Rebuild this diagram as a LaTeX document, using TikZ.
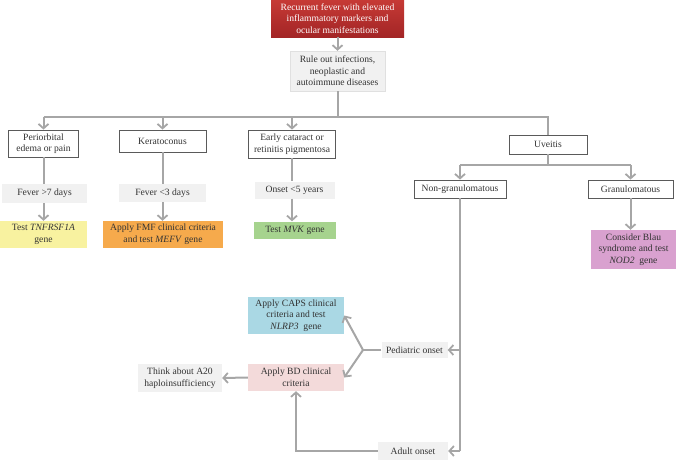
\documentclass[tikz,border=0pt]{standalone}
\usepackage{fontspec}
\setmainfont{Liberation Serif}
\usetikzlibrary{arrows.meta}

\definecolor{txt}{HTML}{333333}
\definecolor{boxline}{HTML}{5A5A5A}
\definecolor{conn}{HTML}{A6A6A6}
\definecolor{greybox}{HTML}{F1F1F1}
\definecolor{redtop}{HTML}{C63A35}
\definecolor{redbot}{HTML}{A32526}
\definecolor{yellowbox}{HTML}{F8F2A0}
\definecolor{orangebox}{HTML}{F6AA4C}
\definecolor{greenbox}{HTML}{A6D38E}
\definecolor{pinkbox}{HTML}{D9A1CF}
\definecolor{bluebox}{HTML}{AAD8E4}
\definecolor{rosebox}{HTML}{F3DADA}

\begin{document}
\begin{tikzpicture}[x=1pt, y=-1pt, font=\fontsize{9.6}{11.6}\selectfont,
  box/.style={draw=boxline, fill=white, line width=0.8pt, align=center, inner sep=1pt, text=txt},
  greyb/.style={fill=greybox, align=center, inner sep=1pt, text=txt},
  colb/.style={fill=#1, align=center, inner sep=1pt, text=txt},
  conline/.style={draw=conn, line width=2pt},
  arr/.style={conline, -{Straight Barb[length=4.5pt, width=10pt, line width=1.8pt]}}]
  \useasboundingbox (0,0) rectangle (676,471);

  \node[align=center, inner sep=1pt, text=white, top color=redtop, bottom color=redbot,
    minimum width=133pt, minimum height=37pt] (fever) at (337.5,18.5)
    {Recurrent fever with elevated\\inflammatory markers and\\ocular manifestations};
  \node[greyb, draw=black!12, minimum width=95pt, minimum height=40pt] (ruleout) at (337.5,71)
    {Rule out infections,\\neoplastic and\\autoimmune diseases};

  \node[box, minimum width=70pt, minimum height=27pt] (peri) at (43.5,143.5) {Periorbital\\edema or pain};
  \node[box, minimum width=87pt, minimum height=22pt] (kerato) at (162.5,141) {Keratoconus};
  \node[box, minimum width=87pt, minimum height=28pt] (catar) at (292,144) {Early cataract or\\retinitis pigmentosa};
  \node[box, minimum width=78pt, minimum height=19pt] (uveitis) at (548,144.5) {Uveitis};

  \node[greyb, minimum width=85pt, minimum height=19pt] (fev7) at (44.5,193.5) {Fever >7 days};
  \node[greyb, minimum width=87pt, minimum height=18pt] (fev3) at (162.5,193) {Fever <3 days};
  \node[greyb, minimum width=80pt, minimum height=17pt] (ons5) at (294.5,190) {Onset <5 years};

  \node[colb=yellowbox, minimum width=87pt, minimum height=27pt] (tnf) at (43.5,234.5) {Test \textit{TNFRSF1A}\\gene};
  \node[colb=orangebox, minimum width=120pt, minimum height=27pt] (fmf) at (163,234.5) {Apply FMF clinical criteria\\and test \textit{MEFV} gene};
  \node[colb=greenbox, minimum width=82pt, minimum height=17pt] (mvk) at (295,230) {Test \textit{MVK} gene};

  \node[box, minimum width=92pt, minimum height=18pt] (nongran) at (460,189) {Non-granulomatous};
  \node[box, minimum width=85pt, minimum height=18pt] (gran) at (630.5,189) {Granulomatous};
  \node[colb=pinkbox, minimum width=85pt, minimum height=39pt] (blau) at (633.5,249.5) {Consider Blau\\syndrome and test\\\textit{NOD2}~ gene};

  \node[colb=bluebox, minimum width=96pt, minimum height=37pt] (caps) at (296,315.5) {Apply CAPS clinical\\criteria and test\\\textit{NLRP3}~ gene};
  \node[colb=rosebox, minimum width=96pt, minimum height=27pt] (bd) at (296,377.5) {Apply BD clinical\\criteria};
  \node[greyb, minimum width=84pt, minimum height=28pt] (a20) at (180,378) {Think about A20\\haploinsufficiency};
  \node[greyb, minimum width=66pt, minimum height=16pt] (ped) at (414.5,350) {Pediatric onset};
  \node[greyb, minimum width=70pt, minimum height=18pt] (adult) at (413,451) {Adult onset};

  \coordinate (busL) at (43.5,117);
  \coordinate (busR) at (548,117);
  \coordinate (uvbus) at (548,165);
  \coordinate (fork) at (363,350);

  \draw[arr] (fever) -- (ruleout);
  \draw[conline] (ruleout) -- (ruleout |- busL);
  \draw[conline] (busL) -- (busR) -- (uveitis.north);
  \draw[arr] (busL) -- (peri.north);
  \draw[arr] (kerato |- busL) -- (kerato.north);
  \draw[arr] (catar |- busL) -- (catar.north);

  \draw[conline] (peri) -- (peri |- fev7.north);
  \draw[arr] (peri |- fev7.south) -- (peri |- tnf.north);
  \draw[conline] (kerato) -- (kerato |- fev3.north);
  \draw[arr] (kerato |- fev3.south) -- (kerato |- fmf.north);
  \draw[conline] (catar) -- (catar |- ons5.north);
  \draw[arr] (catar |- ons5.south) -- (catar |- mvk.north);

  \draw[conline] (uveitis) -- (uvbus);
  \draw[conline] (nongran |- uvbus) -- (gran |- uvbus);
  \draw[arr] (nongran |- uvbus) -- (nongran.north);
  \draw[arr] (gran |- uvbus) -- (gran.north);
  \draw[arr] (gran) -- (gran |- blau.north);

  \draw[conline] (nongran.south) -- (nongran |- adult);
  \draw[arr] (nongran |- ped) -- (ped.east);
  \draw[arr] (nongran |- adult) -- (adult.east);
  \draw[conline] (ped.west) -- (fork);
  \draw[arr] (fork) -- (caps.east);
  \draw[arr] (fork) -- (bd.east);
  \draw[arr] (bd.west) -- (a20.east);
  \draw[arr] (adult.west) -- (bd |- adult) -- (bd.south);
\end{tikzpicture}
\end{document}
